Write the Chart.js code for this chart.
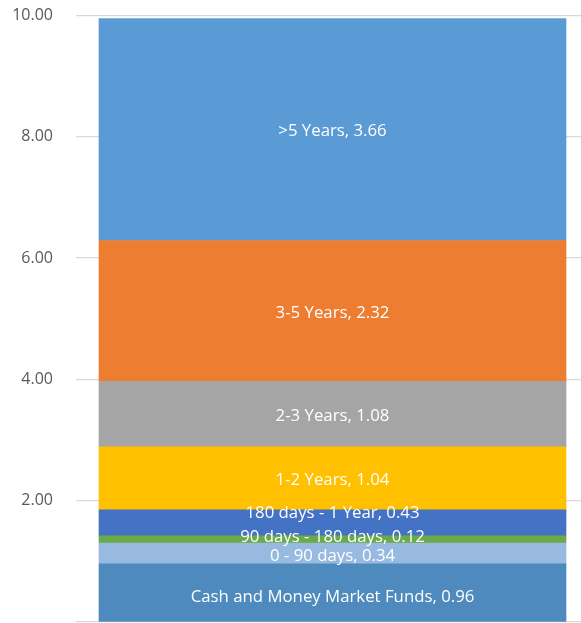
<!DOCTYPE html>
<html lang="en">
<head>
    <meta charset="UTF-8">
    <title>Maturity Distribution</title>
    <script src="https://cdn.jsdelivr.net/npm/chart.js"></script>
    <style>
        html, body { margin: 0; padding: 0; background: #fff; overflow: hidden; }
        /* plot runs a little past the right edge, like the original */
        #wrap { width: 589px; height: 623px; }
    </style>
</head>
<body>
    <div id="wrap"><canvas id="chart"></canvas></div>
    <script>
        // Data, bottom segment first
        const categories = [''];
        const seriesNames = ['Cash and Money Market Funds', '0 - 90 days', '90 days - 180 days',
            '180 days - 1 Year', '1-2 Years', '2-3 Years', '3-5 Years', '>5 Years'];
        const seriesValues = [0.96, 0.34, 0.12, 0.43, 1.04, 1.08, 2.32, 3.66];
        const yTicks = [0, 2, 4, 6, 8, 10];

        const colors = ['#4e8abe', '#98bae0', '#6aaa47', '#4472c4', '#ffc000', '#a5a5a5', '#ed7d31', '#5b9bd5'];
        // nudge for labels that would overlap (pixels)
        const labelShift = [5, 3, -2, -10, 2, 2, 2, 2];

        const segLabels = {
            id: 'segLabels',
            afterDatasetsDraw(chart) {
                const ctx = chart.ctx;
                ctx.save();
                ctx.font = '16.8px "Open Sans", sans-serif';
                ctx.fillStyle = '#ffffff';
                ctx.textAlign = 'center';
                ctx.textBaseline = 'middle';
                chart.data.datasets.forEach((ds, i) => {
                    const bar = chart.getDatasetMeta(i).data[0];
                    const y = (bar.y + bar.base) / 2 + labelShift[i];
                    ctx.fillText(ds.label + ', ' + ds.data[0].toFixed(2), bar.x, y);
                });
                ctx.restore();
            }
        };

        new Chart(document.getElementById('chart'), {
            type: 'bar',
            data: {
                labels: categories,
                datasets: seriesNames.map((name, i) => ({
                    label: name,
                    data: [seriesValues[i]],
                    backgroundColor: colors[i],
                    borderWidth: 0,
                    barThickness: 467
                }))
            },
            options: {
                responsive: true,
                maintainAspectRatio: false,
                animation: false,
                layout: { padding: { top: 15.5, bottom: 1, right: 0, left: 0 } },
                plugins: { legend: { display: false }, tooltip: { enabled: false } },
                scales: {
                    x: { stacked: true, display: false },
                    y: {
                        stacked: true,
                        min: 0,
                        max: 10,
                        afterFit(s) { s.width = 76; s.paddingTop = 0; s.paddingBottom = 0; },
                        afterBuildTicks(s) { s.ticks = yTicks.map(v => ({ value: v })); },
                        border: { display: false },
                        grid: { color: '#d9d9d9', lineWidth: 1.3, drawTicks: false },
                        ticks: {
                            padding: 23,
                            color: '#595959',
                            font: { family: '"Open Sans", sans-serif', size: 16 },
                            callback: v => v === 0 ? '' : v.toFixed(2)
                        }
                    }
                }
            },
            plugins: [segLabels]
        });
    </script>
</body>
</html>
